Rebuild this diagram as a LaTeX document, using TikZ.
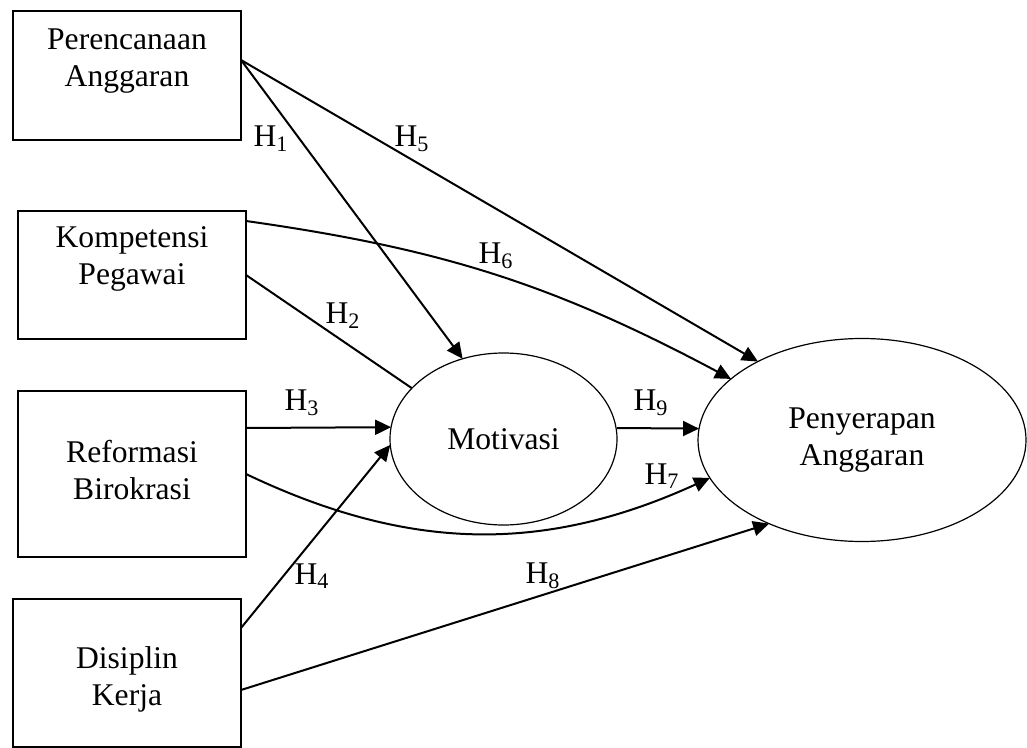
\documentclass[tikz,border=0pt]{standalone}
\usepackage{fontspec}
\setmainfont{Liberation Serif}
\usetikzlibrary{shapes.geometric, arrows.meta}

\begin{document}
\begin{tikzpicture}[x=0.5pt, y=-0.5pt,
	every node/.style={font=\fontsize{15.8}{18.5}\selectfont},
	kotak/.style={draw, rectangle, line width=0.75pt, inner sep=0pt,
		outer sep=0pt, minimum width=114pt},
	bulat/.style={draw, ellipse, line width=0.6pt, inner sep=0pt,
		outer sep=0pt, align=center},
	isi/.style={anchor=center, align=center},
	panah/.style={line width=1pt, -{Triangle[length=8pt,width=7.5pt]}}]
	\useasboundingbox (0,0) rectangle (1027,748);
	\node [kotak, minimum height=64.5pt, label={[isi, yshift=-25.25pt]north:Perencanaan\\Anggaran}] (0) at (127,75.5) {};
	\node [kotak, minimum height=64pt, label={[isi, yshift=-23.75pt]north:Kompetensi\\Pegawai}] (1) at (132,275) {};
	\node [kotak, minimum height=83pt, label={[isi, yshift=-39.5pt]north:Reformasi\\Birokrasi}] (2) at (132,474) {};
	\node [kotak, minimum height=74pt, label={[isi, yshift=-40pt]north:Disiplin\\Kerja}] (3) at (127,673) {};
	\node [bulat, minimum width=113.5pt, minimum height=86pt] (4) at (503.5,439) {Motivasi};
	\node [bulat, minimum width=164pt, minimum height=101.5pt] (5) at (862,440) {Penyerapan\\Anggaran};
	\draw [panah] ([yshift=7.75pt]0.east) to (4.117);
	\draw [panah] ([yshift=7.75pt]0.east) to (5.143);
	\draw [line width=1pt] (1.east) to (4.151);
	\draw [panah] ([yshift=-5pt]1.north east) to [bend left=10] (5.155);
	\draw [panah] ([yshift=23pt]2.east) to (4.174);
	\draw [panah] (2.east) to [bend right=25] (5.194);
	\draw [panah] ([yshift=22.5pt]3.east) to (4.183);
	\draw [panah] ([yshift=-8.5pt]3.east) to (5.222);
	\draw [panah] ([yshift=5.5pt]4.east) to (5.176);
	\node (6) at (271,139) {H\textsubscript{1}};
	\node (7) at (343,316) {H\textsubscript{2}};
	\node (8) at (302,403) {H\textsubscript{3}};
	\node (9) at (312,576) {H\textsubscript{4}};
	\node (10) at (412,139) {H\textsubscript{5}};
	\node (11) at (496,256) {H\textsubscript{6}};
	\node (12) at (662,476) {H\textsubscript{7}};
	\node (13) at (543,576) {H\textsubscript{8}};
	\node (14) at (651,403) {H\textsubscript{9}};
\end{tikzpicture}
\end{document}
